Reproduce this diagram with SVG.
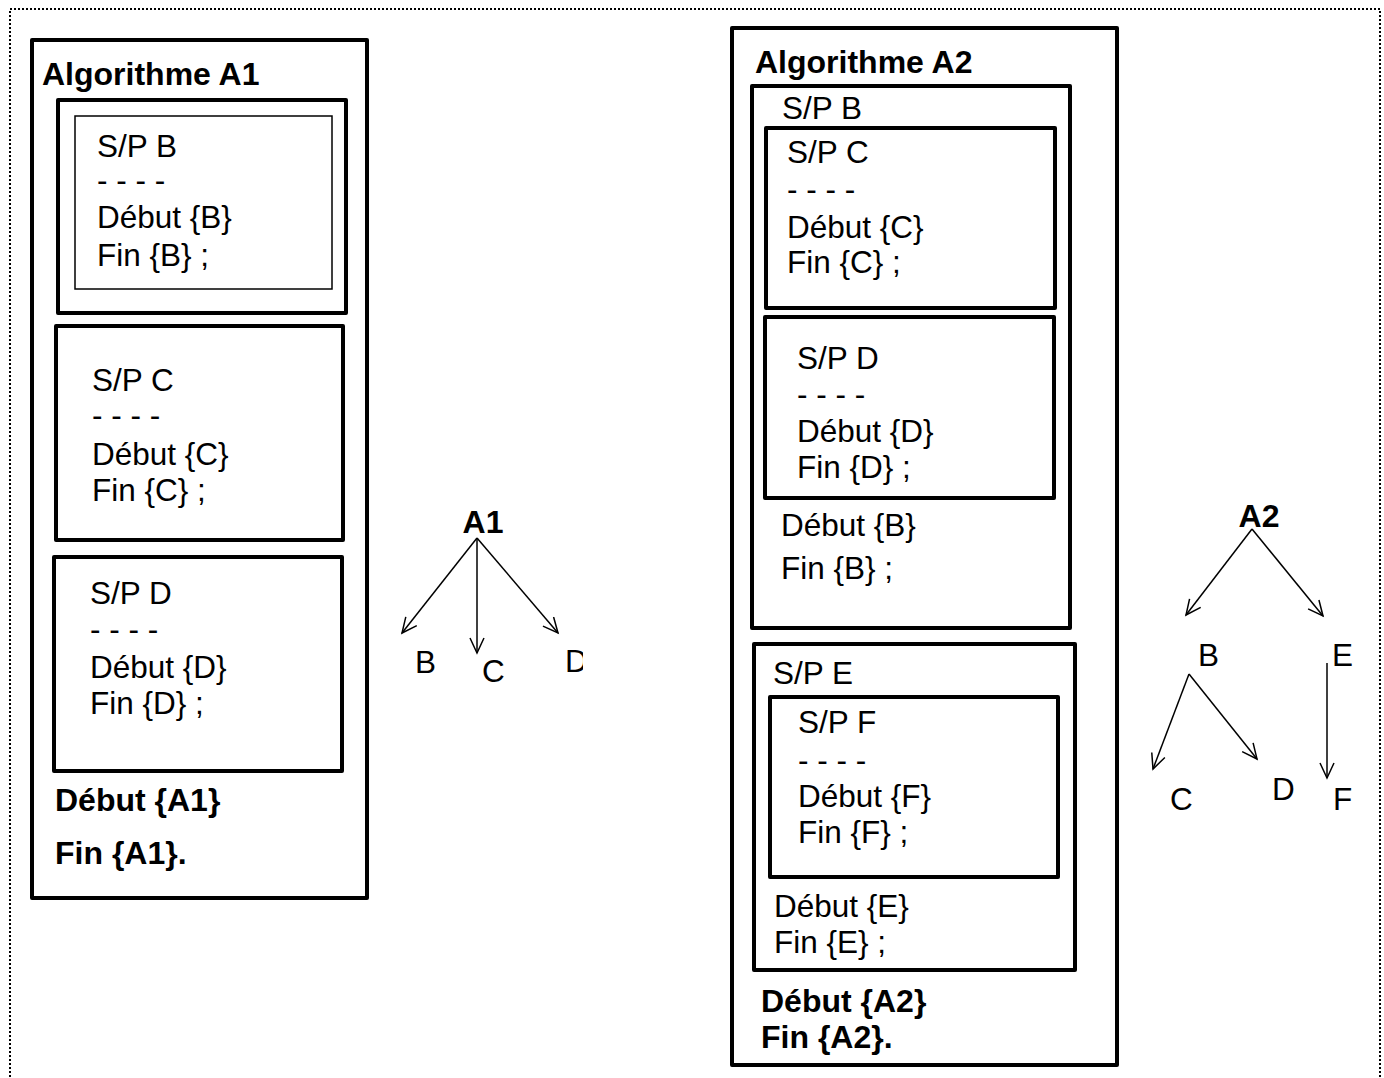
<svg xmlns="http://www.w3.org/2000/svg" width="1384" height="1078" viewBox="0 0 1384 1078">
<style>
.box{fill:none;stroke:#000;stroke-width:4;stroke-linejoin:round}
.thin{fill:none;stroke:#000;stroke-width:1.5}
.t{font-family:"Liberation Sans",Arial,sans-serif;font-size:31.5px;fill:#000}
.b{font-family:"Liberation Sans",Arial,sans-serif;font-size:32px;font-weight:bold;fill:#000}
.edge{fill:none;stroke:#000;stroke-width:1.5}
</style>
<defs>
<marker id="arr" markerUnits="userSpaceOnUse" markerWidth="20" markerHeight="20" refX="16" refY="8" orient="auto">
<path d="M1,1 L16,8 L1,15" fill="none" stroke="#000" stroke-width="1.5"/>
</marker>
<clipPath id="clipD"><rect x="0" y="0" width="583" height="1078"/></clipPath>
</defs>
<rect x="10" y="9" width="1370" height="1100" fill="none" stroke="#000" stroke-width="2" stroke-dasharray="2,2"/>

<g id="A1">
<rect class="box" x="32" y="40" width="335" height="858"/>
<text class="b" x="42" y="85">Algorithme A1</text>
<text class="b" x="55" y="811">Début {A1}</text>
<text class="b" x="55" y="864">Fin {A1}.</text>
</g>
<g id="A1_B">
<rect class="box" x="58" y="100" width="288" height="213"/>
<rect class="thin" x="75" y="116" width="257" height="173"/>
<text class="t" x="97" y="157">S/P B</text>
<text class="t" x="97" y="191">- - - -</text>
<text class="t" x="97" y="228">Début {B}</text>
<text class="t" x="97" y="266">Fin {B} ;</text>
</g>
<g id="A1_C">
<rect class="box" x="56" y="326" width="287" height="214"/>
<text class="t" x="92" y="391">S/P C</text>
<text class="t" x="92" y="426">- - - -</text>
<text class="t" x="92" y="465">Début {C}</text>
<text class="t" x="92" y="501">Fin {C} ;</text>
</g>
<g id="A1_D">
<rect class="box" x="54" y="557" width="288" height="214"/>
<text class="t" x="90" y="604">S/P D</text>
<text class="t" x="90" y="640">- - - -</text>
<text class="t" x="90" y="678">Début {D}</text>
<text class="t" x="90" y="714">Fin {D} ;</text>
</g>

<g id="A2">
<rect class="box" x="732" y="28" width="385" height="1037"/>
<text class="b" x="755" y="73">Algorithme A2</text>
<text class="b" x="761" y="1012">Début {A2}</text>
<text class="b" x="761" y="1048">Fin {A2}.</text>
</g>
<g id="A2_B">
<rect class="box" x="752" y="86" width="318" height="542"/>
<text class="t" x="782" y="119">S/P B</text>
<text class="t" x="781" y="536">Début {B}</text>
<text class="t" x="781" y="579">Fin {B} ;</text>
</g>
<g id="A2_C">
<rect class="box" x="766" y="128" width="289" height="180"/>
<text class="t" x="787" y="163">S/P C</text>
<text class="t" x="787" y="200">- - - -</text>
<text class="t" x="787" y="238">Début {C}</text>
<text class="t" x="787" y="273">Fin {C} ;</text>
</g>
<g id="A2_D">
<rect class="box" x="765" y="317" width="289" height="181"/>
<text class="t" x="797" y="369">S/P D</text>
<text class="t" x="797" y="405">- - - -</text>
<text class="t" x="797" y="442">Début {D}</text>
<text class="t" x="797" y="478">Fin {D} ;</text>
</g>
<g id="A2_E">
<rect class="box" x="754" y="644" width="321" height="326"/>
<text class="t" x="773" y="684">S/P E</text>
<text class="t" x="774" y="917">Début {E}</text>
<text class="t" x="774" y="953">Fin {E} ;</text>
</g>
<g id="A2_F">
<rect class="box" x="770" y="697" width="288" height="180"/>
<text class="t" x="798" y="733">S/P F</text>
<text class="t" x="798" y="771">- - - -</text>
<text class="t" x="798" y="807">Début {F}</text>
<text class="t" x="798" y="843">Fin {F} ;</text>
</g>

<g id="tree1">
<text class="b" x="483" y="533" text-anchor="middle">A1</text>
<text class="t" x="415" y="673">B</text>
<text class="t" x="482" y="682">C</text>
<text class="t" x="565" y="672" clip-path="url(#clipD)">D</text>
</g>
<g id="tree2">
<text class="b" x="1259" y="527" text-anchor="middle">A2</text>
<text class="t" x="1198" y="666">B</text>
<text class="t" x="1332" y="666">E</text>
<text class="t" x="1170" y="810">C</text>
<text class="t" x="1272" y="800">D</text>
<text class="t" x="1333" y="810">F</text>
</g>

<g id="connectors">
<line class="edge" x1="477" y1="538" x2="402" y2="633" marker-end="url(#arr)"/>
<line class="edge" x1="477" y1="538" x2="477" y2="653" marker-end="url(#arr)"/>
<line class="edge" x1="477" y1="538" x2="558" y2="633" marker-end="url(#arr)"/>
<line class="edge" x1="1252" y1="529" x2="1186" y2="615" marker-end="url(#arr)"/>
<line class="edge" x1="1252" y1="529" x2="1323" y2="616" marker-end="url(#arr)"/>
<line class="edge" x1="1189" y1="674" x2="1153" y2="769" marker-end="url(#arr)"/>
<line class="edge" x1="1189" y1="674" x2="1257" y2="759" marker-end="url(#arr)"/>
<line class="edge" x1="1327" y1="663" x2="1327" y2="778" marker-end="url(#arr)"/>
</g>
</svg>
